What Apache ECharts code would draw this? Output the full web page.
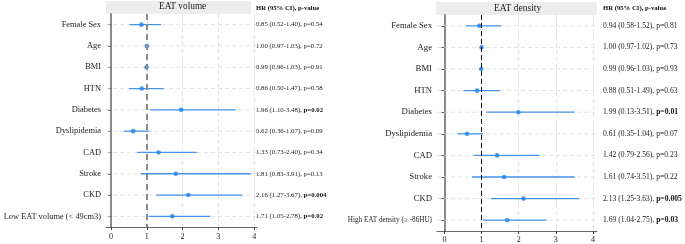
<!DOCTYPE html>
<html>
<head>
<meta charset="utf-8">
<script src="https://cdn.jsdelivr.net/npm/echarts@6/dist/echarts.min.js"></script>
<style>
  html,body{margin:0;padding:0;background:#fff;}
  #chart{width:685px;height:244px;}
</style>
</head>
<body>
<div id="chart"></div>
<script>
var labelsVol = ['Female Sex','Age','BMI','HTN','Diabetes','Dyslipidemia','CAD','Stroke','CKD','Low EAT volume (< 49cm3)'];
var hrVol = [0.85,1.00,0.99,0.86,1.96,0.62,1.33,1.81,2.16,1.71];
var loVol = [0.52,0.97,0.96,0.50,1.10,0.36,0.73,0.83,1.27,1.05];
var hiVol = [1.40,1.03,1.03,1.47,3.48,1.07,2.40,3.91,3.67,2.78];
var ciTxtVol = ['0.85 (0.52-1.40)','1.00 (0.97-1.03)','0.99 (0.96-1.03)','0.86 (0.50-1.47)','1.96 (1.10-3.48)',
                '0.62 (0.36-1.07)','1.33 (0.73-2.40)','1.81 (0.83-3.91)','2.16 (1.27-3.67)','1.71 (1.05-2.78)'];
var pVol = ['0.54','0.72','0.91','0.58','0.02','0.09','0.34','0.13','0.004','0.02'];

var labelsDen = ['Female Sex','Age','BMI','HTN','Diabetes','Dyslipidemia','CAD','Stroke','CKD','High EAT density (≥ -86HU)'];
var hrDen = [0.94,1.00,0.99,0.88,1.99,0.61,1.42,1.61,2.13,1.69];
var loDen = [0.58,0.97,0.96,0.51,1.13,0.35,0.79,0.74,1.25,1.04];
var hiDen = [1.52,1.02,1.03,1.49,3.51,1.04,2.56,3.51,3.63,2.75];
var ciTxtDen = ['0.94 (0.58-1.52)','1.00 (0.97-1.02)','0.99 (0.96-1.03)','0.88 (0.51-1.49)','1.99 (0.13-3.51)',
                '0.61 (0.35-1.04)','1.42 (0.79-2.56)','1.61 (0.74-3.51)','2.13 (1.25-3.63)','1.69 (1.04-2.75)'];
var pDen = ['0.81','0.73','0.93','0.63','0.01','0.07','0.23','0.22','0.005','0.03'];

var xTicks = [0,1,2,3,4];
var FONT = 'Liberation Serif';

var myChart = echarts.init(document.getElementById('chart'));

// 行的虚线网格
function rowLine(params, api){
    var cs = params.coordSys;
    var p = api.coord([0, api.value(0)]);
    return {type:'line', silent:true,
        shape:{x1:cs.x, y1:p[1], x2:cs.x+cs.width, y2:p[1]},
        style:{stroke:'#dadada', lineWidth:0.8, lineDash:[4,3]}};
}
// 置信区间
function ciLine(params, api){
    var a = api.coord([api.value(1), api.value(0)]);
    var b = api.coord([api.value(2), api.value(0)]);
    return {type:'line', shape:{x1:a[0], y1:a[1], x2:b[0], y2:b[1]},
        style:{stroke:'#4595ea', lineWidth:1.3}};
}

function buildRows(lo, hi){
    var d = [];
    for(var i=0;i<lo.length;i++){ d.push([i, lo[i], hi[i]]); }
    return d;
}
function buildPts(hr){
    var d = [];
    for(var i=0;i<hr.length;i++){ d.push([hr[i], i]); }
    return d;
}
function valueLabels(ci, p){
    var out = [];
    for(var i=0;i<ci.length;i++){
        if(parseFloat(p[i]) < 0.05){
            out.push('{n|' + ci[i] + ', }{b|p=' + p[i] + '}');
        }else{
            out.push('{n|' + ci[i] + ', p=' + p[i] + '}');
        }
    }
    return out;
}

function panelAxes(gi, labels, ci, p, cfg){
    var vals = valueLabels(ci, p);
    var x = {
        type:'value', gridIndex:gi, min:cfg.min, max:cfg.max,
        axisLine:{show:true, lineStyle:{color:'#444', width:0.8}},
        axisTick:{show:true, length:3, lineStyle:{color:'#444'}, customValues:xTicks},
        axisLabel:{fontFamily:FONT, fontSize:8, color:'#222', margin:cfg.xMargin, customValues:xTicks},
        splitLine:{show:true, lineStyle:{color:'#dadada', width:0.8, type:[4,3]}}
    };
    var y = {
        type:'category', gridIndex:gi, data:labels, inverse:true,
        axisLine:{show:true, lineStyle:{color:'#8a8a8a', width:2}},
        axisTick:{show:true, alignWithLabel:true, length:3, lineStyle:{color:'#555'}},
        axisLabel:{fontFamily:FONT, fontSize:cfg.labSize, color:'#222', margin:5,
            formatter:function(v, idx){ return idx === labels.length-1 ? '{s|'+v+'}' : v; },
            rich:{s:{fontFamily:FONT, fontSize:cfg.lastSize, color:'#222'}}},
        splitLine:{show:false}
    };
    var y2 = {
        type:'category', gridIndex:gi, data:vals, inverse:true, position:'right',
        axisLine:{show:false}, axisTick:{show:false},
        axisLabel:{align:'left', margin:cfg.valMargin,
            rich:{n:{fontFamily:FONT, fontSize:cfg.valSize, color:'#222'},
                  b:{fontFamily:FONT, fontSize:cfg.valSize, color:'#111', fontWeight:'bold'}}},
        splitLine:{show:false}
    };
    return {x:x, y:y, y2:y2};
}

var left = panelAxes(0, labelsVol, ciTxtVol, pVol,
    {min:-0.14, max:4.08, xMargin:6, labSize:8.4, lastSize:8.4, valSize:6.8, valMargin:-1});
var right = panelAxes(1, labelsDen, ciTxtDen, pDen,
    {min:-0.2, max:4.11, xMargin:5, labSize:8.7, lastSize:7.2, valSize:7.6, valMargin:6});

function panelSeries(xi, yi, lo, hi, hr, refStyle){
    return [
        {type:'custom', xAxisIndex:xi, yAxisIndex:yi, renderItem:rowLine, data:buildRows(lo, hi),
         encode:{x:[1,2], y:0}, z:1, silent:true},
        {type:'custom', xAxisIndex:xi, yAxisIndex:yi, renderItem:ciLine, data:buildRows(lo, hi),
         encode:{x:[1,2], y:0}, z:3,
         markLine:{silent:true, symbol:'none', label:{show:false}, data:[{xAxis:1}],
                   lineStyle:refStyle}},
        {type:'scatter', xAxisIndex:xi, yAxisIndex:yi, data:buildPts(hr), symbolSize:4.6,
         itemStyle:{color:'#1f82ea'}, z:4}
    ];
}

option = {
    backgroundColor:'#fff',
    animation:false,
    grid:[
        {left:106, top:14, width:151, height:213},
        {left:437, top:15, width:160, height:216}
    ],
    xAxis:[left.x, right.x],
    yAxis:[left.y, left.y2, right.y, right.y2],
    graphic:[
        {type:'rect', left:106, top:1, shape:{width:145, height:13}, style:{fill:'#ededed'}, z:-1},
        {type:'text', left:159, top:2, style:{text:'EAT volume', font:'9.3px "Liberation Serif"', fill:'#1a1a1a'}},
        {type:'rect', left:436, top:2, shape:{width:161, height:13}, style:{fill:'#ededed'}, z:-1},
        {type:'text', left:494, top:3, style:{text:'EAT density', font:'9.5px "Liberation Serif"', fill:'#1a1a1a'}},
        {type:'text', left:256, top:5, style:{text:'HR (95% CI), p-value', font:'bold 6.7px "Liberation Serif"', fill:'#111'}},
        {type:'text', left:603, top:5, style:{text:'HR (95% CI), p-value', font:'bold 6.7px "Liberation Serif"', fill:'#111'}}
    ],
    series: panelSeries(0, 0, loVol, hiVol, hrVol, {color:'#8a8a8a', width:2, type:[6,4]})
        .concat(panelSeries(1, 2, loDen, hiDen, hrDen, {color:'#111', width:1, type:[5,3]}))
};
myChart.setOption(option);
</script>
</body>
</html>
